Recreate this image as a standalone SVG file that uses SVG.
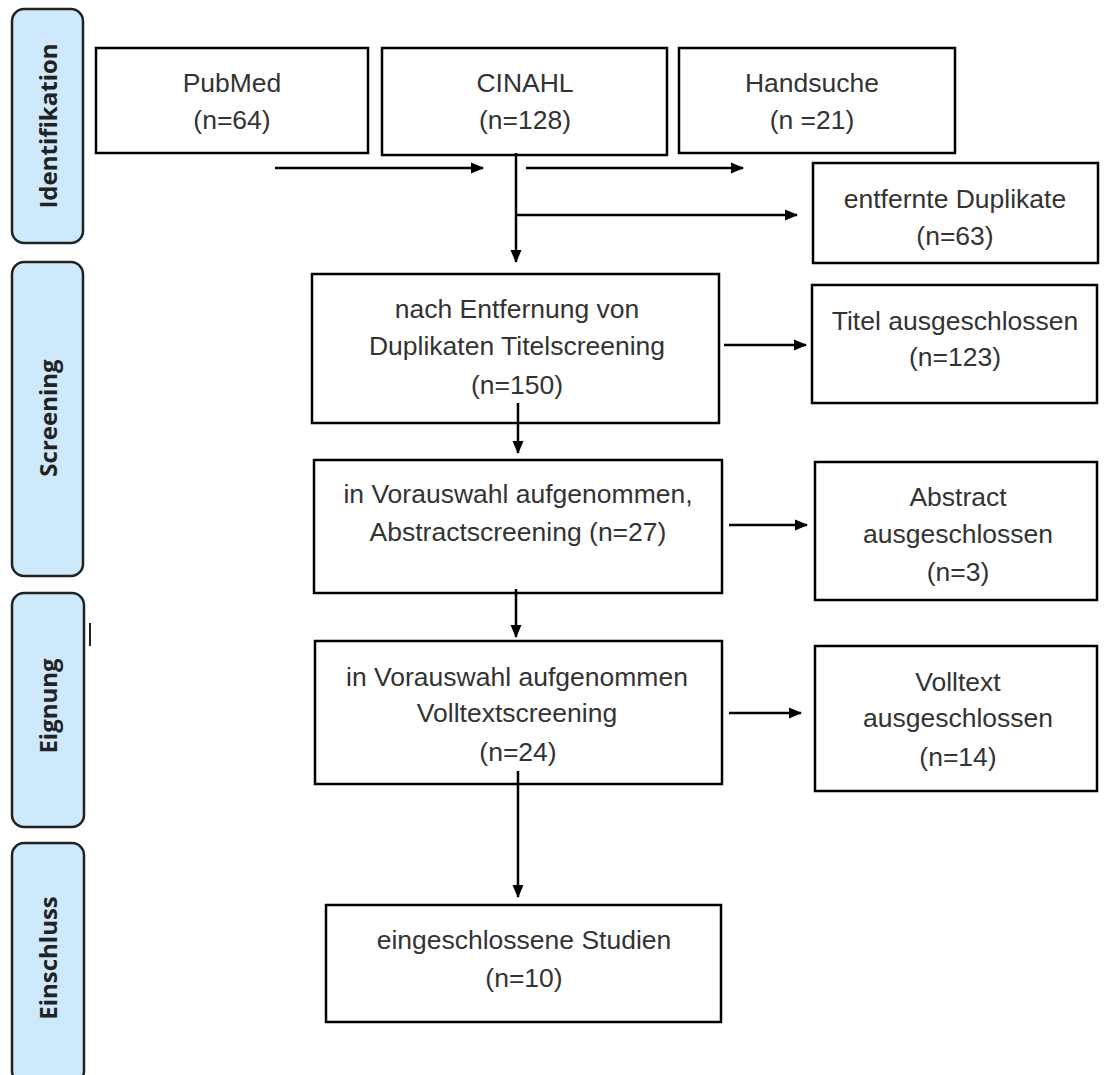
<svg xmlns="http://www.w3.org/2000/svg" width="1112" height="1075" viewBox="0 0 1112 1075">
<defs>
<marker id="ah" markerWidth="13" markerHeight="12" refX="12" refY="6" orient="auto" markerUnits="userSpaceOnUse">
<path d="M0,0.5 L13,6 L0,11.5 Z" fill="#000"/>
</marker>
<style>
.box{fill:#fff;stroke:#000;stroke-width:2.5}
.side{fill:#cde9fb;stroke:#222;stroke-width:2.5}
.t{font-family:"Liberation Sans",Arial,sans-serif;font-size:26.5px;fill:#333;text-anchor:middle}
.s{font-family:"Open Sans","Liberation Sans",sans-serif;font-size:24px;font-weight:bold;fill:#222;text-anchor:middle}
.c{stroke:#000;stroke-width:2.5;fill:none}
</style>
</defs>
<rect width="1112" height="1075" fill="#fff"/>
<g id="side-identifikation"><rect class="side" x="12" y="9" width="71" height="234" rx="12"/><text class="s" transform="translate(57,126) rotate(-90)">Identifikation</text></g>
<g id="side-screening"><rect class="side" x="12" y="262" width="71" height="314" rx="12"/><text class="s" transform="translate(57,418) rotate(-90)">Screening</text></g>
<g id="side-eignung"><rect class="side" x="12" y="593" width="72" height="234" rx="12"/><text class="s" transform="translate(57,706) rotate(-90)">Eignung</text></g>
<g id="side-einschluss"><rect class="side" x="12" y="843" width="72" height="240" rx="12"/><text class="s" transform="translate(57,958) rotate(-90)">Einschluss</text></g>
<line x1="90" y1="623" x2="90" y2="646" stroke="#222" stroke-width="2"/>

<g id="pubmed"><rect class="box" x="96" y="48" width="272" height="105"/><text class="t" x="232" y="92">PubMed</text><text class="t" x="232" y="129">(n=64)</text></g>
<g id="cinahl"><rect class="box" x="382" y="48" width="285" height="107"/><text class="t" x="525" y="92">CINAHL</text><text class="t" x="525" y="129">(n=128)</text></g>
<g id="handsuche"><rect class="box" x="679" y="48" width="276" height="105"/><text class="t" x="812" y="92">Handsuche</text><text class="t" x="812" y="129">(n =21)</text></g>
<g id="duplikate"><rect class="box" x="813" y="163" width="285" height="100"/><text class="t" x="955" y="208">entfernte Duplikate</text><text class="t" x="955" y="245">(n=63)</text></g>
<g id="titelscreening"><rect class="box" x="312" y="274" width="407" height="149"/><text class="t" x="517" y="318">nach Entfernung von</text><text class="t" x="517" y="355">Duplikaten Titelscreening</text><text class="t" x="517" y="394">(n=150)</text></g>
<g id="titel-aus"><rect class="box" x="812" y="285" width="285" height="118"/><text class="t" x="955" y="330">Titel ausgeschlossen</text><text class="t" x="955" y="366">(n=123)</text></g>
<g id="abstractscreening"><rect class="box" x="314" y="460" width="408" height="133"/><text class="t" x="518" y="503">in Vorauswahl aufgenommen,</text><text class="t" x="518" y="541">Abstractscreening (n=27)</text></g>
<g id="abstract-aus"><rect class="box" x="815" y="462" width="282" height="138"/><text class="t" x="958" y="506">Abstract</text><text class="t" x="958" y="543">ausgeschlossen</text><text class="t" x="958" y="581">(n=3)</text></g>
<g id="volltextscreening"><rect class="box" x="315" y="641" width="407" height="143"/><text class="t" x="517" y="686">in Vorauswahl aufgenommen</text><text class="t" x="517" y="722">Volltextscreening</text><text class="t" x="518" y="761">(n=24)</text></g>
<g id="volltext-aus"><rect class="box" x="815" y="646" width="282" height="145"/><text class="t" x="958" y="691">Volltext</text><text class="t" x="958" y="727">ausgeschlossen</text><text class="t" x="958" y="766">(n=14)</text></g>
<g id="eingeschlossen"><rect class="box" x="326" y="905" width="395" height="117"/><text class="t" x="524" y="949">eingeschlossene Studien</text><text class="t" x="524" y="987">(n=10)</text></g>

<g id="connectors">
<line class="c" x1="275" y1="168" x2="483" y2="168" marker-end="url(#ah)"/>
<line class="c" x1="526" y1="168" x2="743" y2="168" marker-end="url(#ah)"/>
<line class="c" x1="516" y1="153" x2="516" y2="262" marker-end="url(#ah)"/>
<line class="c" x1="516" y1="215" x2="797" y2="215" marker-end="url(#ah)"/>
<line class="c" x1="724" y1="345" x2="806" y2="345" marker-end="url(#ah)"/>
<line class="c" x1="518" y1="403" x2="518" y2="453" marker-end="url(#ah)"/>
<line class="c" x1="729" y1="525" x2="807" y2="525" marker-end="url(#ah)"/>
<line class="c" x1="516" y1="589" x2="516" y2="637" marker-end="url(#ah)"/>
<line class="c" x1="729" y1="713" x2="801" y2="713" marker-end="url(#ah)"/>
<line class="c" x1="518" y1="771" x2="518" y2="897" marker-end="url(#ah)"/>
</g>
</svg>
